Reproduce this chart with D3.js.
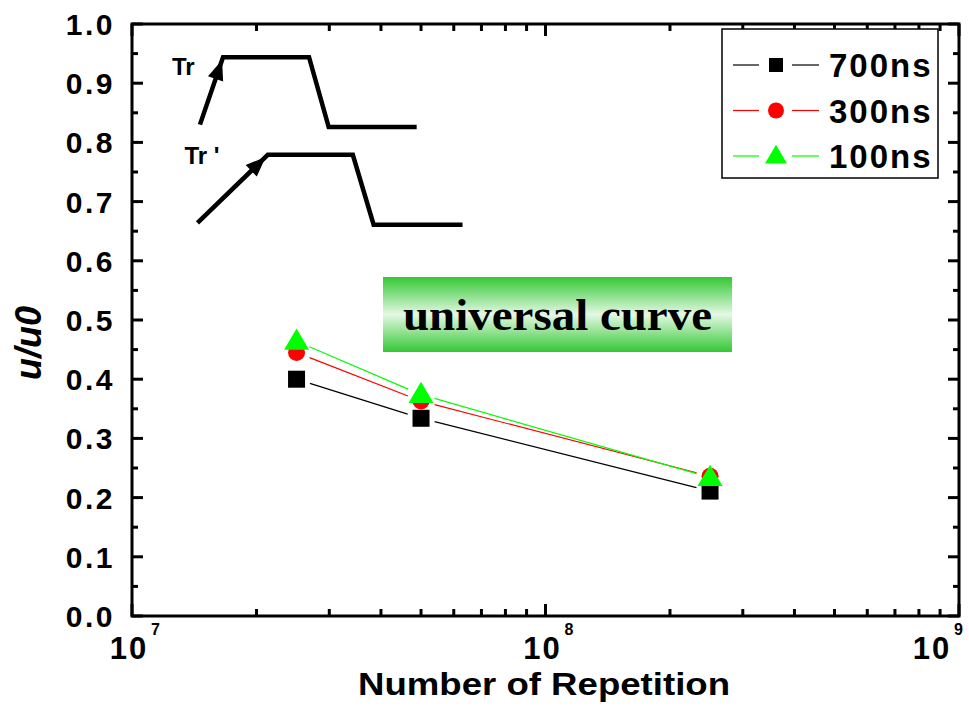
<!DOCTYPE html>
<html>
<head>
<meta charset="utf-8">
<script src="https://cdn.jsdelivr.net/npm/d3@7"></script>
<style>
  body { margin: 0; background: #fff; }
  svg text { font-family: "Liberation Sans", Arial, sans-serif; font-weight: bold; }
</style>
</head>
<body>
<div id="main"></div>
<script>
// data
var repetitions = [2.5e7, 5e7, 2.5e8];
var series = ["700ns", "300ns", "100ns"];
var v700 = [0.400, 0.334, 0.211];
var v300 = [0.445, 0.363, 0.236];
var v100 = [0.464, 0.374, 0.234];
var colors = ["#000000", "#ff0000", "#00ff00"];
var shapes = ["square", "circle", "triangle"];
var yTicks = [0, 0.1, 0.2, 0.3, 0.4, 0.5, 0.6, 0.7, 0.8, 0.9, 1.0];
var xMajor = [1e7, 1e8, 1e9];
var xMajorExp = ["7", "8", "9"];

// pulse sketches (data units)
var pulseTr = [[1.46e7, 0.830], [1.66e7, 0.944], [2.68e7, 0.944], [2.99e7, 0.826], [4.88e7, 0.826]];
var pulseTr2 = [[1.44e7, 0.664], [2.13e7, 0.779], [3.42e7, 0.779], [3.84e7, 0.661], [6.30e7, 0.661]];

var winWidth = 969, winHeight = 711;
var lPad = 132, tPad = 24,
    plotW = 827, plotH = 592;

var svg = d3.select('#main').append('svg')
  .attr('width', winWidth)
  .attr('height', winHeight);

var x = d3.scaleLog().domain([1e7, 1e9]).range([lPad, lPad + plotW]);
var y = d3.scaleLinear().domain([0, 1]).range([tPad + plotH, tPad]);

// gradient for the "universal curve" box
var defs = svg.append('defs');
var grad = defs.append('linearGradient').attr('id', 'ucGrad')
  .attr('x1', 0).attr('y1', 0).attr('x2', 0).attr('y2', 1);
grad.append('stop').attr('offset', '0%').attr('stop-color', '#33c833');
grad.append('stop').attr('offset', '50%').attr('stop-color', '#e4f8e4');
grad.append('stop').attr('offset', '100%').attr('stop-color', '#33c833');

// ticks -- all pointing inward
var minorY = d3.range(0.05, 1.0, 0.1);
var minorX = x.ticks().filter(function(d) { return xMajor.indexOf(d) < 0; });
var tickG = svg.append('g').attr('stroke', '#000').attr('stroke-width', 3);

yTicks.forEach(function(d) {
  tickG.append('line').attr('x1', lPad).attr('x2', lPad + 11).attr('y1', y(d)).attr('y2', y(d));
  tickG.append('line').attr('x1', lPad + plotW).attr('x2', lPad + plotW - 11).attr('y1', y(d)).attr('y2', y(d));
});
minorY.forEach(function(d) {
  tickG.append('line').attr('x1', lPad).attr('x2', lPad + 6).attr('y1', y(d)).attr('y2', y(d));
  tickG.append('line').attr('x1', lPad + plotW).attr('x2', lPad + plotW - 6).attr('y1', y(d)).attr('y2', y(d));
});
xMajor.forEach(function(d) {
  tickG.append('line').attr('x1', x(d)).attr('x2', x(d)).attr('y1', y(0)).attr('y2', y(0) - 12);
  tickG.append('line').attr('x1', x(d)).attr('x2', x(d)).attr('y1', y(1)).attr('y2', y(1) + 12);
});
minorX.forEach(function(d) {
  tickG.append('line').attr('x1', x(d)).attr('x2', x(d)).attr('y1', y(0)).attr('y2', y(0) - 7);
  tickG.append('line').attr('x1', x(d)).attr('x2', x(d)).attr('y1', y(1)).attr('y2', y(1) + 7);
});

// frame
svg.append('rect')
  .attr('x', lPad).attr('y', tPad)
  .attr('width', plotW).attr('height', plotH)
  .attr('fill', 'none').attr('stroke', '#000').attr('stroke-width', 3);

// y tick labels
svg.append('g').selectAll('text').data(yTicks).enter().append('text')
  .attr('x', lPad - 17)
  .attr('y', function(d) { return y(d) + 11; })
  .attr('text-anchor', 'end')
  .attr('font-size', 30)
  .attr('letter-spacing', 2.5)
  .text(function(d) { return d.toFixed(1); });

// x tick labels 10^n (last one pulled in so it stays on the page)
xMajor.forEach(function(d, i) {
  var cx = Math.min(x(d) - 3, winWidth - 37);
  svg.append('text')
    .attr('x', cx).attr('y', y(0) + 43)
    .attr('text-anchor', 'middle')
    .attr('font-size', 31)
    .attr('letter-spacing', 2)
    .text('10');
  svg.append('text')
    .attr('x', cx + 22).attr('y', y(0) + 19)
    .attr('font-size', 16)
    .text(xMajorExp[i]);
});

// axis titles
svg.append('text')
  .attr('x', 358).attr('y', 695)
  .attr('font-size', 32)
  .attr('textLength', 372)
  .attr('lengthAdjust', 'spacingAndGlyphs')
  .text('Number of Repetition');

svg.append('text')
  .attr('transform', 'translate(41,343) rotate(-90)')
  .attr('text-anchor', 'middle')
  .attr('font-size', 36)
  .attr('font-style', 'italic')
  .text('u/u0');

// universal curve box
svg.append('rect')
  .attr('x', 383).attr('y', 277).attr('width', 349).attr('height', 75)
  .attr('fill', 'url(#ucGrad)');
svg.append('text')
  .attr('x', 403).attr('y', 330)
  .style('font-family', '"Liberation Serif", "Times New Roman", serif')
  .attr('font-size', 45)
  .attr('textLength', 309)
  .attr('lengthAdjust', 'spacingAndGlyphs')
  .text('universal curve');

// pulse sketches
var pulseLine = d3.line().x(function(d) { return x(d[0]); }).y(function(d) { return y(d[1]); });
[pulseTr, pulseTr2].forEach(function(p) {
  svg.append('path').attr('d', pulseLine(p))
    .attr('fill', 'none').attr('stroke', '#000').attr('stroke-width', 4.5)
    .attr('stroke-linejoin', 'miter');
  // arrowhead on the rising edge, tip just before the corner
  var x0 = x(p[0][0]), y0 = y(p[0][1]), x1 = x(p[1][0]), y1 = y(p[1][1]);
  var ang = Math.atan2(y1 - y0, x1 - x0);
  var len = Math.hypot(x1 - x0, y1 - y0);
  var tipD = len - 3;
  var tx = x0 + Math.cos(ang) * tipD, ty = y0 + Math.sin(ang) * tipD;
  var hl = 20, hw = 8;
  var bx = tx - Math.cos(ang) * hl, by = ty - Math.sin(ang) * hl;
  var nx = -Math.sin(ang) * hw, ny = Math.cos(ang) * hw;
  svg.append('path')
    .attr('d', 'M' + tx + ',' + ty + 'L' + (bx + nx) + ',' + (by + ny) + 'L' + (bx - nx) + ',' + (by - ny) + 'Z')
    .attr('fill', '#000');
});
svg.append('text').attr('x', x(pulseTr[0][0]) - 28).attr('y', y(pulseTr[1][1]) + 18)
  .attr('font-size', 24).text('Tr');
svg.append('text').attr('x', x(pulseTr2[0][0]) - 13).attr('y', y(pulseTr2[1][1]) + 9)
  .attr('font-size', 24).attr('xml:space', 'preserve').text("Tr '");

// markers
function drawMarker(g, shape, cx, cy, color, s) {
  if (shape === 'square') {
    g.append('rect').attr('x', cx - s / 2).attr('y', cy - s / 2).attr('width', s).attr('height', s).attr('fill', color);
  } else if (shape === 'circle') {
    g.append('circle').attr('cx', cx).attr('cy', cy).attr('r', s / 2).attr('fill', color);
  } else {
    var h = s * 0.85;
    g.append('path').attr('d', 'M' + cx + ',' + (cy - h * 0.6) + 'L' + (cx + s / 2) + ',' + (cy + h * 0.4) + 'L' + (cx - s / 2) + ',' + (cy + h * 0.4) + 'Z')
      .attr('fill', color);
  }
}

var allVals = [v700, v300, v100];
var gap = 14;
var dataG = svg.append('g');
allVals.forEach(function(vals, si) {
  var pts = repetitions.map(function(r, i) { return [x(r), y(vals[i])]; });
  for (var i = 0; i < pts.length - 1; i++) {
    var a = pts[i], b = pts[i + 1];
    var dx = b[0] - a[0], dy = b[1] - a[1], L = Math.hypot(dx, dy);
    var ux = dx / L, uy = dy / L;
    dataG.append('line')
      .attr('x1', a[0] + ux * gap).attr('y1', a[1] + uy * gap)
      .attr('x2', b[0] - ux * gap).attr('y2', b[1] - uy * gap)
      .attr('stroke', colors[si]).attr('stroke-width', 1.2);
  }
});
var sizes = [17, 17, 25];
allVals.forEach(function(vals, si) {
  repetitions.forEach(function(r, i) {
    drawMarker(dataG, shapes[si], x(r), y(vals[i]), colors[si], sizes[si]);
  });
});

// legend
var lg = svg.append('g');
lg.append('rect').attr('x', 722).attr('y', 29).attr('width', 216).attr('height', 149)
  .attr('fill', '#fff').attr('stroke', '#000').attr('stroke-width', 1.5);
var legSizes = [14, 16, 22];
series.forEach(function(name, i) {
  var cy = 65 + i * 45.5;
  lg.append('line').attr('x1', 733).attr('x2', 759).attr('y1', cy).attr('y2', cy)
    .attr('stroke', colors[i]).attr('stroke-width', 1.2);
  lg.append('line').attr('x1', 792).attr('x2', 819).attr('y1', cy).attr('y2', cy)
    .attr('stroke', colors[i]).attr('stroke-width', 1.2);
  drawMarker(lg, shapes[i], 776, cy, colors[i], legSizes[i]);
  lg.append('text').attr('x', 829).attr('y', cy + 12)
    .attr('font-size', 33).attr('letter-spacing', 2).text(name);
});
</script>
</body>
</html>
